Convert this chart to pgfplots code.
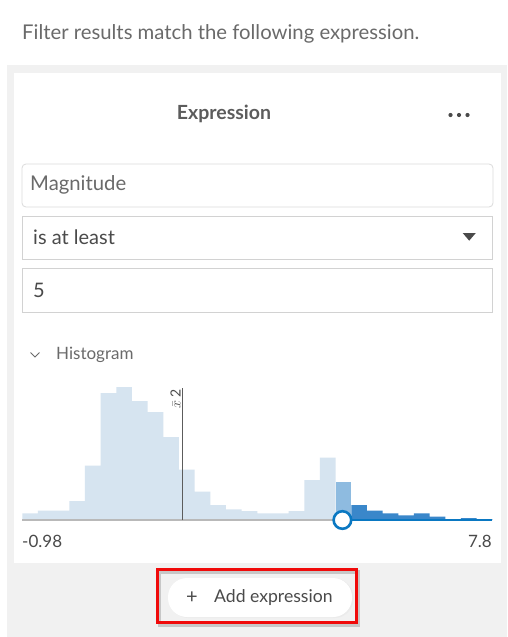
\documentclass[border=0pt]{standalone}
\usepackage{pgfplots}
\pgfplotsset{compat=1.18}
\usepackage{fontspec}
\setmainfont{Lato}
\definecolor{txt}{HTML}{6A6A6A}
\definecolor{dark}{HTML}{4A4A4A}
\definecolor{panel}{HTML}{F1F1F1}
\definecolor{border}{HTML}{D2D2D2}
\definecolor{light}{HTML}{D6E4F0}
\definecolor{medium}{HTML}{8EBBE0}
\definecolor{deep}{HTML}{3A87CA}
\definecolor{esri}{HTML}{0A78C2}
\definecolor{redbox}{HTML}{F00A0A}
\begin{document}
\begin{tikzpicture}[x=1pt,y=1pt]
\fill[white] (0,0) rectangle (507,-637);
\fill[panel] (7,-65) rectangle (507,-637);
\fill[white] (14,-73) rectangle (501,-563);
\node[anchor=west, inner sep=0, text=txt, font=\fontsize{20.3}{22}\selectfont] at (22,-34) {Filter results match the following expression.};
\node[inner sep=0, text=dark!90, font=\fontsize{19.5}{22}\bfseries] at (224,-114) {Expression};
\foreach \xx in {450.5,459,467.5} \fill[dark] (\xx,-115) circle (2.1);
\draw[border!80, line width=0.8, rounded corners=4] (22,-164) rectangle (493,-207);
\node[anchor=west, inner sep=0, text=txt, font=\fontsize{20.3}{22}\selectfont] at (30,-185) {Magnitude};
\draw[border, line width=1] (22,-216) rectangle (492,-259);
\node[anchor=west, inner sep=0, text=dark, font=\fontsize{20}{22}\selectfont] at (33,-237) {is at least};
\fill[dark] (462.7,-233) -- (475.8,-233) -- (469.2,-240.7) -- cycle;
\draw[border, line width=1] (22,-268) rectangle (492,-312);
\node[anchor=west, inner sep=0, text=dark, font=\fontsize{20}{22}\selectfont] at (33,-290) {5};
\draw[txt, line width=1] (30.5,-352.5) -- (35,-357) -- (39.5,-352.5);
\node[anchor=west, inner sep=0, text=txt, font=\fontsize{17}{19}\selectfont] at (56,-355) {Histogram};
\begin{axis}[at={(22.3pt,-520pt)}, anchor=south west, scale only axis,
  width=470pt, height=133pt, xmin=-0.98, xmax=7.8, ymin=0, ymax=133,
  hide axis, clip=false]
\addplot[ybar interval, fill=light, draw=none] coordinates {
(-0.98,6.7) (-0.6873,9.5) (-0.3947,9.5) (-0.1020,19) (0.1907,54.5)
(0.4833,127) (0.7760,133) (1.0687,119) (1.3613,108) (1.6540,83)
(1.9467,50.5) (2.2393,28.3) (2.5320,15) (2.8247,10.7) (3.1173,9)
(3.4100,6.7) (3.7027,6.7) (3.9953,9) (4.2880,40) (4.5807,62.3) (4.8733,0)};
\addplot[ybar interval, fill=medium, draw=none] coordinates {(4.8733,38.3) (5.1660,0)};
\addplot[ybar interval, fill=deep, draw=none] coordinates {
(5.1660,15) (5.4587,9.3) (5.7513,6.7) (6.0440,4.7) (6.3367,6.7)
(6.6293,3.3) (6.9220,0.8) (7.2147,2) (7.5073,0.8) (7.8,0)};
\addplot[gray!55, line width=1.3] coordinates {(-0.98,0) (5,0)};
\addplot[esri, line width=2.6] coordinates {(5,0) (7.8,0)};
\addplot[dark!90, line width=1.1] coordinates {(2.01,0) (2.01,132)};
\node[rotate=90, anchor=south east, inner sep=1.5, text=dark, font=\fontsize{14}{15}\selectfont] at (axis cs:2.01,132) {$\bar{x}$\,2};
\addplot[only marks, mark=*, mark size=8.8pt, mark options={fill=white, draw=esri, line width=2.6pt}] coordinates {(5,0)};
\end{axis}
\node[anchor=west, inner sep=0, text=dark, font=\fontsize{17}{19}\selectfont] at (22,-541) {-0.98};
\node[anchor=east, inner sep=0, text=dark, font=\fontsize{17}{19}\selectfont] at (492,-541) {7.8};
\draw[black!22, line width=3.4] (159.5,-572) rectangle (358.5,-625);
\fill[black!8, rounded corners=19] (169.5,-578.5) rectangle (353.5,-618);
\fill[white, rounded corners=19] (168,-578) rectangle (352,-617);
\draw[redbox, line width=3.4] (157.5,-569.5) rectangle (356.5,-622.5);
\node[inner sep=0, text=dark, font=\fontsize{20}{22}\selectfont] at (192,-598) {+};
\node[anchor=west, inner sep=0, text=dark, font=\fontsize{17.6}{19}\selectfont] at (214,-597.5) {Add expression};
\pgfresetboundingbox
\useasboundingbox (0,0) rectangle (507,-637);
\end{tikzpicture}
\end{document}
